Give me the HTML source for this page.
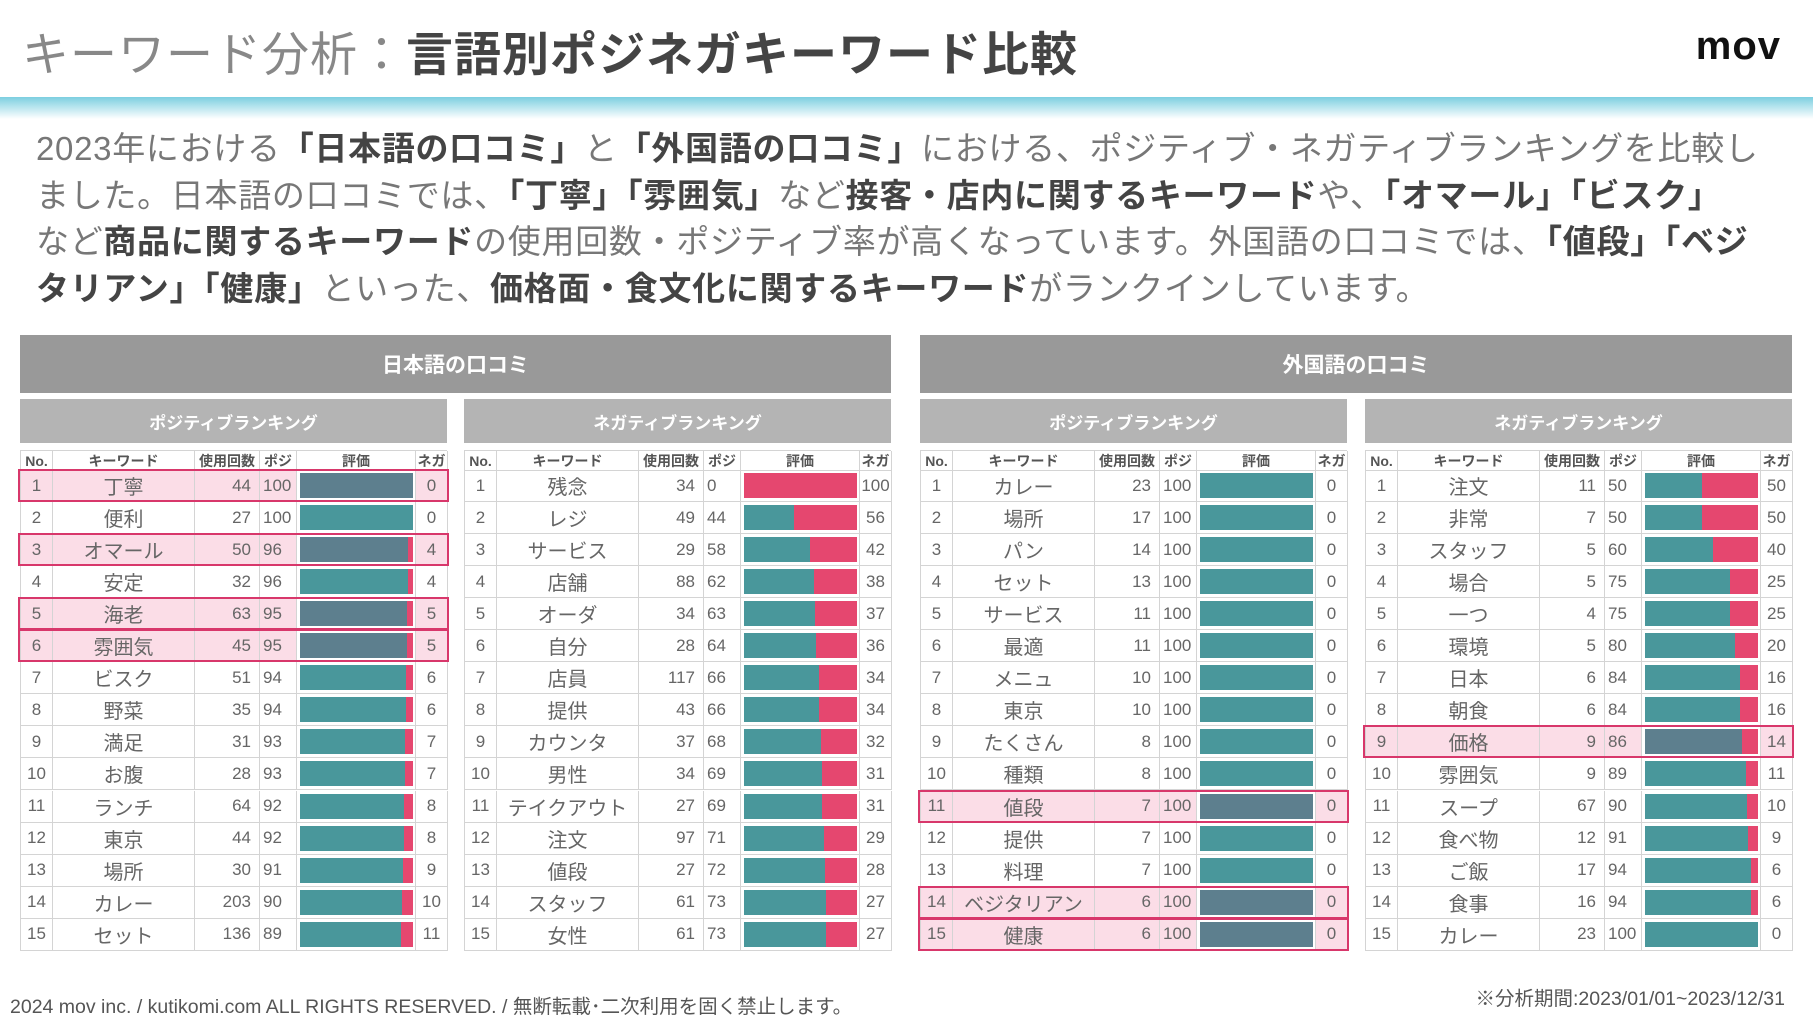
<!DOCTYPE html>
<html lang="ja"><head><meta charset="utf-8">
<style>
body{margin:0;width:1813px;height:1020px;background:#fff;position:relative;overflow:hidden;font-family:"Liberation Sans","Noto Sans CJK JP",sans-serif;}
.abs{position:absolute;}
#title{left:22px;top:16px;font-size:47px;color:#888;white-space:nowrap;letter-spacing:1px}
#title b{color:#444;font-weight:700}
#logo{right:32px;top:24px;font-size:40px;font-weight:700;color:#111;letter-spacing:1px}
#band{left:0;top:97px;width:1813px;height:22px;background:linear-gradient(#7ccfe0,#ffffff)}
#para{left:36px;top:126px;width:1780px;font-size:33px;line-height:46.5px;color:#777;letter-spacing:0.7px;white-space:nowrap}
#para b{color:#444}
.mh{background:#999;color:#fff;font-weight:700;font-size:21px;display:flex;align-items:center;justify-content:center}
.sh{background:#b4b4b4;color:#fff;font-weight:700;font-size:17px;display:flex;align-items:center;justify-content:center}
.cell{position:absolute;box-sizing:border-box;display:flex;align-items:center;justify-content:center;color:#666;white-space:nowrap;border-right:1px solid #d4d4d4;border-bottom:1px solid #d4d4d4}
.hd{font-size:14px;color:#555;font-weight:700}
.foot{font-size:19.5px;color:#555}
</style></head><body>
<div class="abs" id="title">キーワード分析：<b>言語別ポジネガキーワード比較</b></div>
<div class="abs" id="logo">mov</div>
<div class="abs" id="band"></div>
<div class="abs" id="para">2023年における<b>「日本語の口コミ」</b>と<b>「外国語の口コミ」</b>における、ポジティブ・ネガティブランキングを比較し<br>ました。日本語の口コミでは、<b>「丁寧」「雰囲気」</b>など<b>接客・店内に関するキーワード</b>や、<b>「オマール」「ビスク」</b><br>など<b>商品に関するキーワード</b>の使用回数・ポジティブ率が高くなっています。外国語の口コミでは、<b>「値段」「ベジ<br>タリアン」「健康」</b>といった、<b>価格面・食文化に関するキーワード</b>がランクインしています。</div>
<div class="abs mh" style="left:20px;top:335px;width:871px;height:58px">日本語の口コミ</div>
<div class="abs mh" style="left:920px;top:335px;width:872px;height:58px">外国語の口コミ</div>
<div id="tables"></div>
<div class="abs foot" style="left:10px;top:990px">2024 mov inc. / kutikomi.com ALL RIGHTS RESERVED. / 無断転載･二次利用を固く禁止します。</div>
<div class="abs foot" style="right:28px;top:982px">※分析期間:2023/01/01~2023/12/31</div>
<script>
const jpPosKeywords=["丁寧","便利","オマール","安定","海老","雰囲気","ビスク","野菜","満足","お腹","ランチ","東京","場所","カレー","セット"];
const jpPosCounts=[44,27,50,32,63,45,51,35,31,28,64,44,30,203,136];
const jpPosRates=[100,100,96,96,95,95,94,94,93,93,92,92,91,90,89];
const jpPosHighlight=[1,3,5,6];
const jpNegKeywords=["残念","レジ","サービス","店舗","オーダ","自分","店員","提供","カウンタ","男性","テイクアウト","注文","値段","スタッフ","女性"];
const jpNegCounts=[34,49,29,88,34,28,117,43,37,34,27,97,27,61,61];
const jpNegRates=[0,44,58,62,63,64,66,66,68,69,69,71,72,73,73];
const jpNegHighlight=[];
const fgPosKeywords=["カレー","場所","パン","セット","サービス","最適","メニュ","東京","たくさん","種類","値段","提供","料理","ベジタリアン","健康"];
const fgPosCounts=[23,17,14,13,11,11,10,10,8,8,7,7,7,6,6];
const fgPosRates=[100,100,100,100,100,100,100,100,100,100,100,100,100,100,100];
const fgPosHighlight=[11,14,15];
const fgNegKeywords=["注文","非常","スタッフ","場合","一つ","環境","日本","朝食","価格","雰囲気","スープ","食べ物","ご飯","食事","カレー"];
const fgNegCounts=[11,7,5,5,4,5,6,6,9,9,67,12,17,16,23];
const fgNegRates=[50,50,60,75,75,80,84,84,86,89,90,91,94,94,100];
const fgNegHighlight=[9];

const root=document.getElementById('tables');
const cols=[32,142,65,37,119,32];
const heads=["No.","キーワード","使用回数","ポジ","評価","ネガ"];
const ROW=32.05, HDT=450, HDH=20, ROWT=470;
function table(x,title,name,kw,cnt,rate,hl){
  const sh=document.createElement('div');
  sh.className='abs sh';
  
  
  sh.style.cssText=`left:${x}px;top:399px;width:427px;height:44px`;
  sh.textContent=title;root.appendChild(sh);
  const wrap=document.createElement('div');
  wrap.className='abs';
  
  
  wrap.style.cssText=`left:${x}px;top:${HDT}px;width:427px;height:${ROWT-HDT+ROW*15}px;border-left:1px solid #d4d4d4;border-top:1px solid #d4d4d4;box-sizing:border-box`;
  root.appendChild(wrap);
  let cx=0;
  heads.forEach((h,i)=>{
    const c=document.createElement('div');c.className='cell hd';
    
    
    c.style.cssText=`left:${cx}px;top:0;width:${cols[i]}px;height:${HDH}px;`;
    c.textContent=h;wrap.appendChild(c);cx+=cols[i];
  });
  for(let r=0;r<15;r++){
    const isH=hl.includes(r+1);
    const top=ROWT-HDT+r*ROW-1;
    const vals=[r+1,kw[r],cnt[r],rate[r],null,100-rate[r]];
    cx=0;
    vals.forEach((v,i)=>{
      const c=document.createElement('div');c.className='cell';
      
      
      let fs=i===1?20:17;
      let just=i===2?'flex-end;padding-right:8px':(i===3?'flex-start;padding-left:3px':'center');
      c.style.cssText=`left:${cx}px;top:${top}px;width:${cols[i]}px;height:${ROW}px;font-size:${fs}px;justify-content:${just};background:${isH&&i!==4?'#fbdde7':'transparent'}`;
      if(i===4){
        const bw=cols[i]-6,bx=3;
        const pos=document.createElement('div');
        
        
        pos.style.cssText=`position:absolute;left:${bx}px;top:3px;height:${ROW-7}px;width:${bw*rate[r]/100}px;background:${isH?'#5d7f8e':'#49979b'}`;
        const neg=document.createElement('div');
        
        
        neg.style.cssText=`position:absolute;left:${bx+bw*rate[r]/100}px;top:3px;height:${ROW-7}px;width:${bw*(100-rate[r])/100}px;background:#e5476f`;
        c.appendChild(pos);c.appendChild(neg);
      } else c.textContent=v;
      wrap.appendChild(c);cx+=cols[i];
    });
    if(isH){
      const o=document.createElement('div');
      
      
      o.style.cssText=`position:absolute;left:-3px;top:${top-1}px;width:431px;height:${ROW+1}px;border:2px solid #d8376b;box-sizing:border-box`;
      wrap.appendChild(o);
    }
  }
}
table(20,"ポジティブランキング","jp-positive",jpPosKeywords,jpPosCounts,jpPosRates,jpPosHighlight);
table(464,"ネガティブランキング","jp-negative",jpNegKeywords,jpNegCounts,jpNegRates,jpNegHighlight);
table(920,"ポジティブランキング","fg-positive",fgPosKeywords,fgPosCounts,fgPosRates,fgPosHighlight);
table(1365,"ネガティブランキング","fg-negative",fgNegKeywords,fgNegCounts,fgNegRates,fgNegHighlight);
</script>
</body></html>
